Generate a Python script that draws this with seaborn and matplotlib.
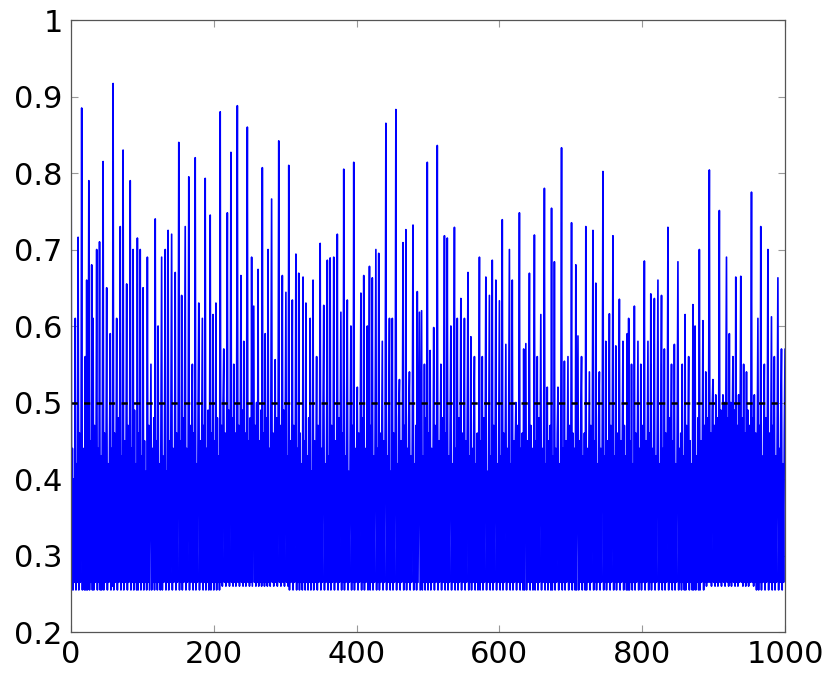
import numpy as np
import pandas as pd
import matplotlib
matplotlib.use("Agg")
import matplotlib.pyplot as plt
import seaborn as sns

# signal values, one per step (x = 0 .. 1000):
# a zig-zag between ~0.26 and ~0.45 with sharp peaks every few steps
signal = [
    1.0, .255, .44, .255, .40, .265, .61, .255, .42, .265,
    .716, .255, .46, .265, .39, .885, .255, .41, .44, .255,
    .56, .255, .66, .255, .38, .79, .255, .45, .265, .68,
    .255, .61, .255, .47, .265, .40, .70, .255, .44, .265,
    .71, .255, .43, .255, .50, .815, .255, .46, .265, .41,
    .65, .255, .42, .265, .45, .59, .255, .44, .26, .917,
    .255, .46, .265, .40, .61, .255, .48, .265, .42, .73,
    .255, .43, .265, .83, .255, .45, .265, .41, .655, .255,
    .47, .265, .40, .79, .255, .44, .265, .70, .255, .49,
    .265, .42, .255, .715, .255, .46, .265, .70, .255, .43,
    .265, .65, .255, .45, .265, .41, .255, .69, .265, .47,
    .255, .40, .55, .255, .44, .265, .48, .255, .74, .265,
    .45, .255, .60, .265, .42, .255, .47, .69, .255, .43,
    .265, .46, .70, .255, .41, .265, .725, .255, .45, .265,
    .49, .72, .255, .44, .265, .42, .67, .255, .46, .265,
    .43, .84, .255, .45, .265, .64, .255, .48, .265, .50,
    .73, .255, .44, .265, .41, .795, .255, .47, .265, .43,
    .55, .255, .46, .265, .82, .255, .42, .265, .48, .63,
    .255, .45, .265, .43, .61, .255, .47, .265, .793, .255,
    .44, .265, .49, .255, .42, .745, .255, .46, .265, .615,
    .255, .45, .265, .63, .255, .48, .265, .43, .255, .88,
    .265, .47, .26, .50, .57, .265, .46, .26, .44, .748,
    .265, .49, .26, .45, .827, .265, .48, .26, .55, .265,
    .46, .26, .50, .888, .265, .47, .26, .44, .666, .265,
    .49, .26, .58, .265, .46, .26, .51, .86, .265, .45,
    .26, .48, .265, .69, .26, .44, .626, .265, .47, .26,
    .50, .265, .674, .26, .45, .265, .49, .26, .807, .265,
    .46, .26, .59, .265, .48, .26, .70, .265, .44, .26,
    .50, .766, .265, .46, .26, .43, .556, .265, .48, .26,
    .45, .842, .265, .47, .26, .44, .666, .265, .49, .26,
    .46, .644, .265, .43, .26, .81, .255, .45, .265, .42,
    .634, .255, .47, .265, .41, .694, .255, .44, .265, .669,
    .255, .46, .265, .42, .255, .664, .265, .45, .255, .63,
    .265, .43, .255, .48, .265, .61, .255, .41, .265, .66,
    .255, .45, .265, .40, .56, .255, .47, .265, .43, .708,
    .255, .44, .265, .49, .627, .255, .42, .265, .46, .686,
    .255, .43, .265, .689, .255, .47, .265, .41, .69, .255,
    .45, .265, .42, .72, .255, .48, .265, .44, .618, .255,
    .46, .265, .805, .255, .43, .265, .49, .634, .255, .41,
    .265, .45, .60, .255, .47, .265, .814, .255, .44, .265,
    .42, .52, .255, .46, .265, .43, .643, .255, .48, .265,
    .666, .255, .44, .265, .41, .60, .255, .45, .678, .255,
    .47, .265, .663, .255, .43, .265, .49, .70, .255, .44,
    .265, .695, .255, .46, .265, .42, .58, .255, .45, .265,
    .48, .865, .255, .43, .265, .47, .61, .255, .41, .265,
    .61, .255, .46, .265, .44, .883, .255, .42, .265, .48,
    .53, .255, .45, .265, .41, .709, .255, .47, .265, .726,
    .255, .44, .265, .48, .54, .255, .43, .265, .46, .732,
    .255, .42, .265, .47, .255, .645, .265, .44, .618, .255,
    .45, .62, .255, .43, .265, .55, .255, .48, .265, .814,
    .255, .46, .265, .568, .255, .44, .265, .41, .598, .255,
    .47, .265, .43, .836, .255, .45, .265, .42, .55, .255,
    .48, .265, .44, .718, .255, .46, .265, .715, .255, .43,
    .265, .47, .60, .255, .42, .265, .45, .729, .255, .44,
    .265, .61, .255, .48, .265, .43, .636, .255, .46, .265,
    .41, .61, .255, .45, .265, .49, .67, .255, .43, .265,
    .586, .255, .44, .265, .47, .56, .255, .42, .265, .46,
    .255, .43, .69, .255, .45, .265, .56, .255, .48, .265,
    .44, .664, .255, .41, .265, .46, .64, .255, .43, .265,
    .686, .255, .47, .265, .44, .66, .255, .42, .265, .45,
    .633, .255, .43, .265, .739, .255, .46, .265, .41, .576,
    .255, .44, .265, .48, .70, .255, .42, .265, .66, .255,
    .45, .265, .43, .50, .255, .47, .265, .41, .748, .255,
    .44, .265, .46, .255, .57, .255, .42, .577, .255, .45,
    .265, .43, .669, .255, .47, .265, .44, .255, .41, .719,
    .255, .45, .265, .56, .255, .48, .265, .43, .615, .255,
    .44, .265, .46, .78, .255, .42, .265, .52, .255, .45,
    .265, .47, .255, .754, .255, .43, .265, .684, .255, .44,
    .265, .46, .52, .255, .42, .265, .48, .833, .255, .44,
    .265, .554, .255, .45, .265, .41, .56, .255, .47, .265,
    .43, .735, .255, .46, .265, .44, .255, .68, .255, .42,
    .587, .255, .45, .265, .48, .56, .255, .43, .265, .46,
    .255, .73, .255, .44, .265, .41, .54, .255, .47, .265,
    .43, .725, .255, .45, .265, .656, .255, .42, .265, .48,
    .54, .255, .44, .265, .46, .802, .255, .43, .265, .58,
    .255, .45, .265, .41, .616, .255, .47, .265, .44, .718,
    .255, .43, .265, .574, .255, .46, .265, .42, .635, .255,
    .45, .265, .44, .58, .255, .47, .265, .43, .255, .59,
    .255, .61, .255, .45, .265, .55, .255, .42, .265, .626,
    .255, .46, .265, .43, .58, .255, .44, .265, .55, .255,
    .47, .265, .42, .685, .255, .45, .265, .43, .58, .255,
    .46, .265, .642, .255, .44, .265, .48, .636, .255, .43,
    .265, .45, .66, .255, .42, .265, .47, .64, .255, .44,
    .265, .57, .255, .46, .265, .43, .729, .255, .48, .265,
    .44, .55, .255, .45, .265, .576, .255, .42, .265, .47,
    .684, .255, .44, .265, .46, .255, .55, .265, .43, .255,
    .615, .255, .47, .265, .44, .56, .255, .45, .265, .42,
    .255, .628, .255, .46, .60, .255, .43, .265, .48, .255,
    .70, .255, .45, .265, .42, .607, .255, .47, .265, .54,
    .26, .48, .265, .50, .804, .265, .46, .26, .49, .53,
    .265, .47, .26, .51, .265, .48, .26, .45, .751, .265,
    .49, .26, .46, .51, .265, .50, .26, .47, .69, .265,
    .48, .26, .59, .265, .50, .26, .46, .56, .265, .49,
    .26, .664, .265, .47, .26, .51, .265, .45, .665, .265,
    .48, .26, .55, .265, .46, .26, .54, .265, .49, .26,
    .47, .265, .45, .775, .265, .48, .26, .51, .265, .46,
    .255, .44, .61, .255, .47, .265, .73, .255, .43, .265,
    .45, .55, .255, .48, .265, .42, .70, .255, .46, .265,
    .44, .612, .255, .47, .265, .56, .255, .43, .265, .45,
    .663, .255, .44, .265, .48, .57, .255, .42, .265, .46,
    .57,
]
steps = list(range(len(signal)))
threshold = 0.5

x_ticks = [0, 200, 400, 600, 800, 1000]
y_ticks = [0.2, 0.3, 0.4, 0.5, 0.6, 0.7, 0.8, 0.9, 1.0]
y_tick_labels = ["0.2", "0.3", "0.4", "0.5", "0.6", "0.7", "0.8", "0.9", "1"]

df = pd.DataFrame({"step": steps, "value": signal})

sns.set_style("ticks")
plt.rcParams["font.family"] = ["DejaVu Sans"]

fig = plt.figure(figsize=(8.31, 6.74), dpi=100)
ax = fig.add_axes([0.0854, 0.0623, 0.8593, 0.908])

sns.lineplot(data=df, x="step", y="value", color="#0000ff", linewidth=1.2, ax=ax)
ax.axhline(threshold, color="black", linestyle=(0, (2.5, 2.5)), linewidth=1.8)

ax.set_xlim(0, 1000)
ax.set_ylim(0.2, 1.0)
ax.set_xticks(x_ticks)
ax.set_yticks(y_ticks)
ax.set_yticklabels(y_tick_labels)
ax.set_xlabel("")
ax.set_ylabel("")
ax.tick_params(direction="in", length=5, width=0.8, color="#999999",
               labelsize=22, labelcolor="black", top=True, right=True, pad=6)
for side in ax.spines.values():
    side.set_color("#555555")
    side.set_linewidth(0.9)

fig.savefig("out.png", dpi=100)
